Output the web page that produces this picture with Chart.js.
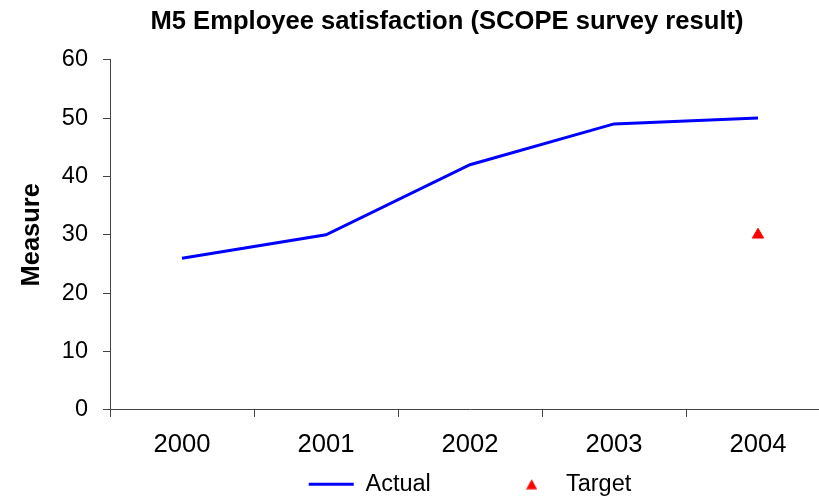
<!DOCTYPE html>
<html>
<head>
<meta charset="utf-8">
<title>M5 Employee satisfaction</title>
<script src="https://cdn.jsdelivr.net/npm/chart.js@4.4.1/dist/chart.umd.min.js"></script>
<style>
  html, body { margin: 0; padding: 0; background: #fff; overflow: hidden; }
  #wrap { position: absolute; left: 0; top: 0; width: 894px; height: 497px; }
</style>
</head>
<body>
<div id="wrap"><canvas id="chartM5"></canvas></div>
<script>
// survey years and results
const years = ['2000', '2001', '2002', '2003', '2004'];
const actual = [26, 30, 42, 49, 50];
const target = [null, null, null, null, 30];
const yTicks = [0, 10, 20, 30, 40, 50, 60];

const fontFamily = "'Liberation Sans', Arial, sans-serif";
const axisColor = '#444';

Chart.defaults.font.family = fontFamily;
Chart.defaults.color = '#000';

// small red triangle for the legend entry (built-in one stretches to the box width)
function triangleIcon() {
  const c = document.createElement('canvas');
  c.width = 11;
  c.height = 11;
  const g = c.getContext('2d');
  g.fillStyle = '#ff0000';
  g.beginPath();
  g.moveTo(5.5, 0.5);
  g.lineTo(11, 10.5);
  g.lineTo(0, 10.5);
  g.closePath();
  g.fill();
  return c;
}

const ctx = document.getElementById('chartM5').getContext('2d');

new Chart(ctx, {
  type: 'line',
  data: {
    labels: years,
    datasets: [
      {
        label: 'Actual',
        data: actual,
        borderColor: '#0000ff',
        backgroundColor: '#0000ff',
        borderWidth: 3,
        pointRadius: 0,
        tension: 0,
        pointStyle: 'line'
      },
      {
        label: 'Target',
        data: target,
        showLine: false,
        pointStyle: 'triangle',
        pointRadius: 6.5,
        borderColor: '#ff0000',
        backgroundColor: '#ff0000',
        borderWidth: 1
      }
    ]
  },
  options: {
    responsive: true,
    maintainAspectRatio: false,
    animation: false,
    layout: { padding: { top: 0, left: 0, right: 0, bottom: -9 } },
    plugins: {
      title: {
        display: true,
        text: 'M5 Employee satisfaction (SCOPE survey result)',
        color: '#000',
        font: { size: 25.6, weight: 'bold' },
        padding: { top: 7, bottom: 22 }
      },
      legend: {
        position: 'bottom',
        fullSize: false,
        labels: {
          usePointStyle: true,
          pointStyleWidth: 45,
          boxHeight: 8,
          padding: 0,
          color: '#000',
          font: { size: 23.5 },
          generateLabels(chart) {
            const items = Chart.defaults.plugins.legend.labels.generateLabels(chart);
            // extra room after the first entry keeps the two entries apart
            items[0].text = 'Actual' + '\u00a0'.repeat(12);
            items[1].pointStyle = triangleIcon();
            return items;
          }
        }
      },
      tooltip: { enabled: false }
    },
    scales: {
      x: {
        offset: true,
        grid: {
          offset: true,
          drawOnChartArea: false,
          tickLength: 7,
          tickColor: axisColor
        },
        border: { color: axisColor, width: 1 },
        ticks: { font: { size: 25.6, lineHeight: 1.0 }, padding: 15, color: '#000' }
      },
      y: {
        min: 0,
        max: 60,
        afterBuildTicks(scale) {
          scale.ticks = yTicks.map(v => ({ value: v }));
        },
        afterFit(scale) { scale.width = 110; },
        grid: {
          drawOnChartArea: false,
          tickLength: 7,
          tickColor: axisColor
        },
        border: { color: axisColor, width: 1 },
        ticks: { font: { size: 23.5 }, padding: 15, color: '#000' },
        title: {
          display: true,
          text: 'Measure',
          color: '#000',
          font: { size: 25.5, weight: 'bold' },
          padding: { top: 17, bottom: 0 }
        }
      },
      // blank strip on the right, pushes the plot edge past the window
      yR: {
        type: 'linear',
        position: 'right',
        display: true,
        grid: { display: false },
        border: { display: false },
        ticks: { display: false },
        afterFit(scale) { scale.width = 64; }
      }
    }
  }
});
</script>
</body>
</html>
